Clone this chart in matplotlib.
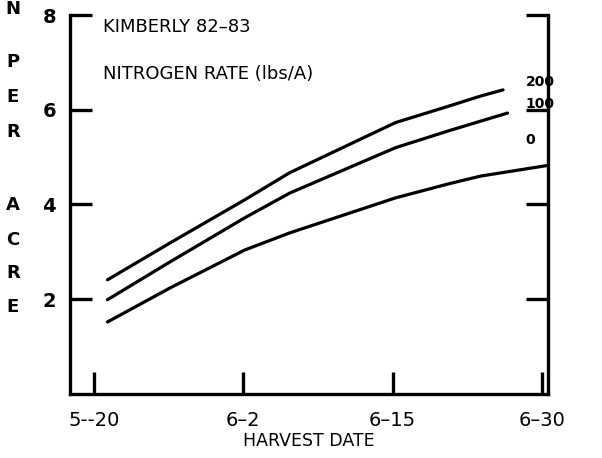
import numpy as np
import matplotlib.pyplot as plt

# harvest date positions (tick units: 0 = 5-20, 1 = 6-2, 2 = 6-15, 3 = 6-30)
tick_pos = [0, 1, 2, 3]
tick_labels = ["5--20", "6\u20132", "6\u201315", "6\u201330"]

# curves
x_200 = [0.09, 0.51, 1.01, 1.31, 2.02, 2.38, 2.59, 2.74]
y_200 = [2.41, 3.19, 4.10, 4.67, 5.73, 6.08, 6.29, 6.42]

x_100 = [0.09, 0.51, 1.01, 1.31, 2.02, 2.38, 2.59, 2.77]
y_100 = [1.99, 2.79, 3.72, 4.24, 5.20, 5.56, 5.76, 5.93]

x_0 = [0.09, 0.51, 1.01, 1.31, 2.02, 2.38, 2.59, 3.03]
y_0 = [1.52, 2.24, 3.04, 3.40, 4.14, 4.44, 4.60, 4.82]

fig = plt.figure(figsize=(6.02, 4.58), dpi=100)
ax = fig.add_axes([0.1163, 0.1398, 0.794, 0.8274])

for xs, ys in [(x_200, y_200), (x_100, y_100), (x_0, y_0)]:
    ax.plot(xs, ys, color="black", lw=2.3, solid_capstyle="round")

ax.set_xlim(-0.161, 3.041)
ax.set_ylim(0, 8)

ax.spines["top"].set_visible(False)
for s in ["left", "right", "bottom"]:
    ax.spines[s].set_linewidth(2.4)

ax.set_xticks(tick_pos)
ax.set_xticklabels(tick_labels, fontsize=14)
ax.set_yticks([2, 4, 6, 8])
ax.set_yticklabels(["2", "4", "6", "8"], fontsize=14, fontweight="bold")
ax.tick_params(axis="both", direction="in", length=16, width=2.4, pad=6)
ax.tick_params(axis="y", right=True, pad=10)
ax.tick_params(axis="x", pad=12)
ax.set_xlabel("HARVEST DATE", fontsize=12.5, labelpad=2)

ax.text(0.06, 7.75, "KIMBERLY 82\u201383", fontsize=13, va="center")
ax.text(0.06, 6.75, "NITROGEN RATE (lbs/A)", fontsize=13, va="center")

ax.text(2.89, 6.58, "200", fontsize=10, fontweight="bold", va="center")
ax.text(2.89, 6.13, "100", fontsize=10, fontweight="bold", va="center")
ax.text(2.89, 5.36, "0", fontsize=10, fontweight="bold", va="center")

# stacked y-axis label
ylab = ["N", "P", "E", "R", "A", "C", "R", "E"]
ylab_y = [9, 62, 97, 132, 205, 240, 273, 307]
for ch, py in zip(ylab, ylab_y):
    fig.text(13 / 602, 1 - py / 458, ch, fontsize=13, fontweight="bold",
             ha="center", va="center")

fig.savefig("out.png", dpi=100)
